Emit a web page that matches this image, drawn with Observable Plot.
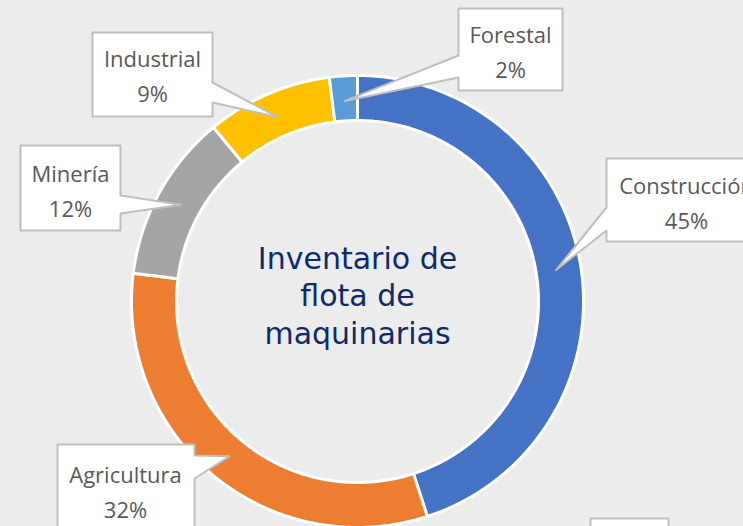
<!DOCTYPE html>
<html><head><meta charset="utf-8">
<script src="https://cdn.jsdelivr.net/npm/d3@7"></script>
<script src="https://cdn.jsdelivr.net/npm/@observablehq/plot@0.6"></script>
<style>
html,body{margin:0;padding:0;background:#ECECEC;overflow:hidden}
#chart svg{display:block}
</style></head><body><div id="chart"></div>
<script>
// ---- data ----
const categories = ["Construcción", "Agricultura", "Minería", "Industrial", "Forestal"];
const values = [45, 32, 12, 9, 2];
const colors = ["#4472C4", "#ED7D31", "#A5A5A5", "#FFC000", "#5B9BD5"];
const titleLines = ["Inventario de", "flota de", "maquinarias"];

// ---- layout (pixels) ----
const W = 743, H = 526, CX = 357, CY = 301, R_OUT = 226, R_IN = 181, R_TIP = 201;
const callouts = [
  {box: [606, 766, 158, 241], side: "left",  base: [207, 230], text: [686, 200]},
  {box: [57, 194, 444, 580],  side: "right", base: [455, 478], text: [125, 489]},
  {box: [20, 120, 145, 230],  side: "right", base: [195, 213], text: [70, 188]},
  {box: [92, 212, 32, 116],   side: "right", base: [82, 102],  text: [152, 73]},
  {box: [458, 562, 8, 90],    side: "left",  base: [55, 77],   text: [510, 49]}
];
const extraBox = [590, 668, 518, 580];

const arcs = d3.pie().sort(null).value(d => d)(values);

// ring polygons
const ring = [];
arcs.forEach((a, i) => {
  const n = Math.max(4, Math.ceil((a.endAngle - a.startAngle) / 0.01));
  for (let k = 0; k <= n; k++) {
    const t = a.startAngle + (a.endAngle - a.startAngle) * k / n;
    ring.push({cat: categories[i], x: CX + R_OUT * Math.sin(t), y: CY - R_OUT * Math.cos(t)});
  }
  for (let k = n; k >= 0; k--) {
    const t = a.startAngle + (a.endAngle - a.startAngle) * k / n;
    ring.push({cat: categories[i], x: CX + R_IN * Math.sin(t), y: CY - R_IN * Math.cos(t)});
  }
});

// callout polygons
const shapes = [];
const labels = [];
arcs.forEach((a, i) => {
  const c = callouts[i];
  const mid = (a.startAngle + a.endAngle) / 2;
  const tip = [CX + R_TIP * Math.sin(mid), CY - R_TIP * Math.cos(mid)];
  const [x0, x1, y0, y1] = c.box;
  let pts;
  if (c.side === "left") {
    pts = [[x0, y0], [x1, y0], [x1, y1], [x0, y1], [x0, c.base[1]], tip, [x0, c.base[0]]];
  } else {
    pts = [[x0, y0], [x1, y0], [x1, c.base[0]], tip, [x1, c.base[1]], [x1, y1], [x0, y1]];
  }
  pts.forEach(p => shapes.push({id: categories[i], x: p[0], y: p[1]}));
  labels.push({x: c.text[0], y: c.text[1], text: `${categories[i]}\n${values[i]}%`});
});
[[extraBox[0], extraBox[2]], [extraBox[1], extraBox[2]], [extraBox[1], extraBox[3]], [extraBox[0], extraBox[3]]]
  .forEach(p => shapes.push({id: "extra", x: p[0], y: p[1]}));

const chart = Plot.plot({
  width: W, height: H, margin: 0,
  x: {domain: [0, W], range: [0, W], axis: null},
  y: {domain: [0, H], range: [0, H], axis: null},
  color: {domain: categories, range: colors},
  style: {background: "#ECECEC", overflow: "hidden"},
  marks: [
    Plot.line(ring, {x: "x", y: "y", z: "cat", fill: "cat", stroke: "white", strokeWidth: 3, strokeLinejoin: "round", curve: "linear-closed"}),
    Plot.line(shapes, {x: "x", y: "y", z: "id", fill: "white", stroke: "#BFBFBF", strokeWidth: 2, curve: "linear-closed"}),
    Plot.text(labels, {x: "x", y: "y", text: "text", fontSize: 22, lineHeight: 1.6, fill: "#595959", fontFamily: "Open Sans"}),
    Plot.text([titleLines.join("\n")], {x: [CX], y: [294], text: d => d, fontSize: 30, lineHeight: 1.24, fill: "#0F2A6B", fontFamily: "DejaVu Sans"})
  ]
});
document.getElementById("chart").appendChild(chart);
</script>
</body></html>
